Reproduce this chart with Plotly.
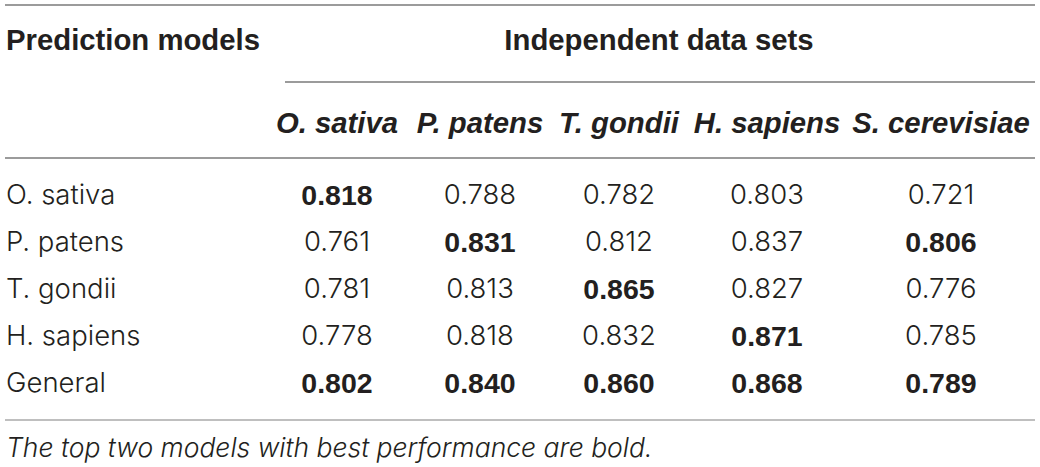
import plotly.graph_objects as go

# table content
models = ["O. sativa", "P. patens", "T. gondii", "H. sapiens", "General"]
datasets = ["O. sativa", "P. patens", "T. gondii", "H. sapiens", "S. cerevisiae"]
scores = [
    [0.818, 0.788, 0.782, 0.803, 0.721],
    [0.761, 0.831, 0.812, 0.837, 0.806],
    [0.781, 0.813, 0.865, 0.827, 0.776],
    [0.778, 0.818, 0.832, 0.871, 0.785],
    [0.802, 0.840, 0.860, 0.868, 0.789],
]
# True where the cell is printed in bold
bold = [
    [True, False, False, False, False],
    [False, True, False, False, True],
    [False, False, True, False, False],
    [False, False, False, True, False],
    [True, True, True, True, True],
]
corner_title = "Prediction models"
group_title = "Independent data sets"
footnote = "The top two models with best performance are bold."

# layout (pixel units of a 1040x467 canvas)
W, H = 1040, 467
LEFT = 6
col_x = [337, 480, 619, 767, 941]
group_x = 659
row_y0, row_step = 197.5, 47
head1_y, head2_y, foot_y = 43, 126, 450
ink = "#231f20"
fsize = 28.5
hsize = 29.3
family = "Liberation Sans, Arial, Helvetica, sans-serif"
light = "Inter, Liberation Sans, Arial, sans-serif"

fig = go.Figure()

reg_x, reg_y, reg_t = [], [], []
bld_x, bld_y, bld_t = [], [], []
for i, row in enumerate(scores):
    y = row_y0 + i * row_step
    for j, v in enumerate(row):
        if bold[i][j]:
            bld_x.append(col_x[j]); bld_y.append(y); bld_t.append(f"{v:.3f}")
        else:
            reg_x.append(col_x[j]); reg_y.append(y); reg_t.append(f"{v:.3f}")

fig.add_trace(go.Scatter(
    x=reg_x, y=reg_y, text=reg_t, mode="text", textposition="middle center",
    textfont=dict(family=light, size=fsize - 1, color=ink, weight=300),
    hoverinfo="skip",
))
fig.add_trace(go.Scatter(
    x=bld_x, y=bld_y, text=bld_t, mode="text", textposition="middle center",
    textfont=dict(family=family, size=fsize, color=ink, weight="bold"),
    hoverinfo="skip",
))
# row labels
fig.add_trace(go.Scatter(
    x=[LEFT] * len(models),
    y=[row_y0 + i * row_step for i in range(len(models))],
    text=models, mode="text", textposition="middle right",
    textfont=dict(family=light, size=fsize - 1, color=ink, weight=300),
    hoverinfo="skip",
))
# column headers
fig.add_trace(go.Scatter(
    x=col_x, y=[head2_y] * len(datasets), text=datasets, mode="text",
    textposition="middle center",
    textfont=dict(family=family, size=hsize, color=ink, weight="bold", style="italic"),
    hoverinfo="skip",
))
fig.add_trace(go.Scatter(
    x=[LEFT, group_x], y=[head1_y, head1_y], text=[corner_title, group_title],
    mode="text", textposition=["middle right", "middle center"],
    textfont=dict(family=family, size=hsize, color=ink, weight="bold"),
    hoverinfo="skip",
))
fig.add_trace(go.Scatter(
    x=[LEFT], y=[foot_y], text=[footnote], mode="text", textposition="middle right",
    textfont=dict(family=light, size=26.5, color=ink, weight=300, style="italic"),
    hoverinfo="skip",
))

rules = [
    (5, 1035, 5, "#7a7a7a"),
    (285, 1035, 82, "#7a7a7a"),
    (5, 1035, 158, "#7a7a7a"),
    (5, 1035, 420, "#aaaaaa"),
]
for x0, x1, y, c in rules:
    fig.add_shape(type="line", x0=x0, x1=x1, y0=y, y1=y, xref="x", yref="y",
                  line=dict(color=c, width=1.6))

fig.update_layout(
    width=W, height=H,
    margin=dict(l=0, r=0, t=0, b=0),
    paper_bgcolor="white", plot_bgcolor="white",
    showlegend=False,
    xaxis=dict(range=[0, W], visible=False, fixedrange=True),
    yaxis=dict(range=[H, 0], visible=False, fixedrange=True),
)

fig.write_html("out.html", config={"displayModeBar": False},
               post_script="document.body.style.margin='0';")
